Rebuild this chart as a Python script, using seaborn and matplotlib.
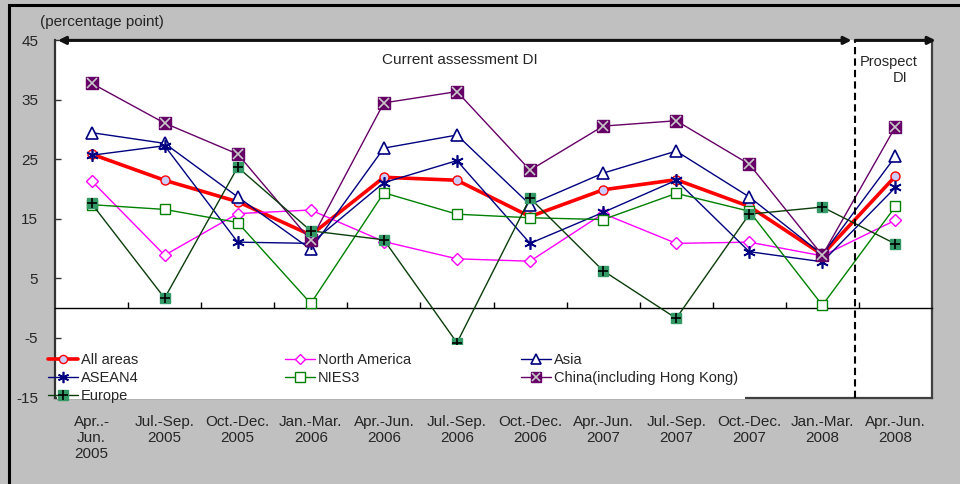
import matplotlib
matplotlib.use("Agg")
import matplotlib.pyplot as plt
from matplotlib.lines import Line2D
from matplotlib.legend_handler import HandlerTuple
from matplotlib.patches import Rectangle
import seaborn as sns

# ---- data -------------------------------------------------------------
quarters = ["Apr..-\nJun.\n2005", "Jul.-Sep.\n2005", "Oct.-Dec.\n2005",
            "Jan.-Mar.\n2006", "Apr.-Jun.\n2006", "Jul.-Sep.\n2006",
            "Oct.-Dec.\n2006", "Apr.-Jun.\n2007", "Jul.-Sep.\n2007",
            "Oct.-Dec.\n2007", "Jan.-Mar.\n2008", "Apr.-Jun.\n2008"]

all_areas     = [25.9, 21.5, 17.9, 12.3, 22.0, 21.5, 15.4, 19.9, 21.6, 17.1, 9.0, 22.2]
north_america = [21.4, 8.9, 15.9, 16.5, 11.2, 8.3, 7.9, 15.9, 10.9, 11.1, 8.8, 14.8]
asia          = [29.5, 27.7, 18.7, 9.9, 26.9, 29.1, 17.4, 22.7, 26.4, 18.7, 9.0, 25.5]
asean4        = [25.7, 27.3, 11.1, 10.9, 21.1, 24.8, 10.9, 16.1, 21.5, 9.5, 7.8, 20.3]
nies3         = [17.4, 16.6, 14.4, 0.8, 19.4, 15.8, 15.2, 14.9, 19.3, 16.3, 0.5, 17.1]
china         = [37.8, 31.1, 25.9, 11.4, 34.5, 36.4, 23.2, 30.6, 31.5, 24.2, 8.9, 30.5]
europe        = [17.6, 1.7, 23.7, 13.0, 11.5, -5.8, 18.5, 6.3, -1.7, 15.8, 17.0, 10.8]

y_ticks = [-15, -5, 5, 15, 25, 35, 45]

# ---- style ------------------------------------------------------------
sns.set_style("white")
plt.rcParams["font.family"] = ["Liberation Sans", "DejaVu Sans"]

W, H = 960, 484
fig = plt.figure(figsize=(W / 100, H / 100), dpi=100, facecolor="#C0C0C0")
ax = fig.add_axes([55 / W, (H - 397.5) / H, (932 - 55) / W, (397.5 - 40.4) / H])
ax.set_facecolor("white")

xpos = list(range(len(quarters)))

series = [
    dict(y=all_areas, label="All areas", color="#FF0000", lw=2.6, marker="o",
         ms=6.5, mfc="#CCCCFF", mec="#FF0000", mew=1.0),
    dict(y=north_america, label="North America", color="#FF00FF", lw=1.0,
         marker="D", ms=6.0, mfc="white", mec="#FF00FF", mew=1.0),
    dict(y=asia, label="Asia", color="#000080", lw=1.0, marker="^",
         ms=8.5, mfc="white", mec="#000080", mew=1.2),
    dict(y=asean4, label="ASEAN4", color="#000080", lw=1.0, marker=(6, 2, 0),
         ms=9.0, mfc="#000080", mec="#000080", mew=1.2),
    dict(y=nies3, label="NIES3", color="#008000", lw=1.0, marker="s",
         ms=7.5, mfc="white", mec="#008000", mew=1.0),
    dict(y=china, label="China(including Hong Kong)", color="#660066", lw=1.0,
         marker="s", ms=8.0, mfc="#660066", mec="#660066", mew=1.0,
         over=dict(marker="x", ms=6.5, color="#C8C8C8", mew=1.2)),
    dict(y=europe, label="Europe", color="#0B3D0B", lw=1.0, marker="s",
         ms=7.5, mfc="#339966", mec="#339966", mew=1.0,
         over=dict(marker="+", ms=7.5, color="#000000", mew=1.2)),
]

handles = {}
for z, s in enumerate(series):
    sns.lineplot(x=xpos, y=s["y"], ax=ax, color=s["color"], linewidth=s["lw"],
                 marker=s["marker"], markersize=s["ms"],
                 markerfacecolor=s["mfc"], markeredgecolor=s["mec"],
                 markeredgewidth=s["mew"], zorder=3 + z * 0.1, sort=False,
                 errorbar=None)
    h = Line2D([], [], color=s["color"], lw=s["lw"], marker=s["marker"],
               ms=s["ms"] * 0.9, mfc=s["mfc"], mec=s["mec"], mew=s["mew"])
    if "over" in s:
        o = s["over"]
        sns.lineplot(x=xpos, y=s["y"], ax=ax, linestyle="", marker=o["marker"],
                     markersize=o["ms"], markeredgecolor=o["color"],
                     markerfacecolor=o["color"], markeredgewidth=o["mew"],
                     zorder=3 + z * 0.1 + 0.05, sort=False, errorbar=None)
        h2 = Line2D([], [], linestyle="", marker=o["marker"], ms=o["ms"] * 0.9,
                    mec=o["color"], mfc=o["color"], mew=o["mew"])
        h = (h, h2)
    handles[s["label"]] = h

# ---- axes -------------------------------------------------------------
ax.set_xlim(-0.5, 11.5)
ax.set_ylim(-15, 45)
ax.set_yticks(y_ticks)
ax.set_yticklabels([str(t) for t in y_ticks])
ax.tick_params(axis="y", direction="in", length=4, width=1, color="#333333",
               labelsize=11, pad=12, left=True)

# zero line acts as the x axis, with ticks between quarters
ax.spines["bottom"].set_position(("data", 0))
ax.spines["bottom"].set_color("black")
ax.spines["bottom"].set_linewidth(1.0)
ax.set_xticks([i + 0.5 for i in range(11)])
ax.set_xticklabels([])
ax.tick_params(axis="x", direction="in", length=4, width=1, color="black",
               bottom=True)
ax.spines["top"].set_visible(False)
ax.spines["left"].set_color("#333333")
ax.spines["left"].set_linewidth(1.6)
ax.spines["right"].set_color("#404040")
ax.spines["right"].set_linewidth(1.6)
ax.set_xlabel("")
ax.set_ylabel("")

# quarter labels along the bottom of the plot area
sec = ax.secondary_xaxis(0)
sec.set_xticks(xpos)
sec.set_xticklabels(quarters, fontsize=11, linespacing=1.2)
sec.tick_params(axis="x", length=0, pad=12.5)
sec.spines["bottom"].set_color("#404040")
sec.spines["bottom"].set_linewidth(1.6)

# period markers
split = 10.45
ax.axvline(split, color="black", lw=1.5, dashes=(3.5, 2.0), zorder=6)
ax.annotate("", xy=(10.40, 45), xytext=(-0.46, 45),
            arrowprops=dict(arrowstyle="<|-|>", color="#111111", lw=2.2,
                            mutation_scale=11, shrinkA=0, shrinkB=0),
            annotation_clip=False, zorder=7)
ax.annotate("", xy=(11.55, 45), xytext=(split, 45),
            arrowprops=dict(arrowstyle="-|>", color="#111111", lw=2.2,
                            mutation_scale=11, shrinkA=0, shrinkB=0),
            annotation_clip=False, zorder=7)
ax.text(5.04, 41.7, "Current assessment DI", ha="center", va="center",
        fontsize=11)
ax.text(10.51, 41.3, "Prospect", ha="left", va="center", fontsize=10.5)
ax.text(11.06, 38.6, "DI", ha="center", va="center", fontsize=10.5)

fig.text(40 / W, 1 - 22 / H, "(percentage point)", ha="left", va="center",
         fontsize=11)

# legend panel
fig.patches.append(Rectangle((56.5 / W, (H - 399) / H), (745 - 56.5) / W,
                             (399 - 345) / H, transform=fig.transFigure,
                             facecolor="white", edgecolor="none", zorder=1))

cols = [(48, ["All areas", "ASEAN4", "Europe"]),
        (285, ["North America", "NIES3"]),
        (521, ["Asia", "China(including Hong Kong)"])]
for x0, labels in cols:
    fig.legend([handles[l] for l in labels], labels, loc="upper left",
               bbox_to_anchor=(x0 / W, (H - 353) / H),
               bbox_transform=fig.transFigure, frameon=False, fontsize=10.5,
               handlelength=2.05, handletextpad=0.2, borderpad=0,
               borderaxespad=0, labelspacing=0.27,
               handler_map={tuple: HandlerTuple(ndivide=1)})

# outer frame
fig.patches.append(Rectangle((8.5 / W, -0.2), 1.2, 1.2 - 5.3 / H,
                             transform=fig.transFigure, fill=False,
                             edgecolor="black", lw=2.2, zorder=2))

fig.savefig("out.png", dpi=100, facecolor=fig.get_facecolor())
